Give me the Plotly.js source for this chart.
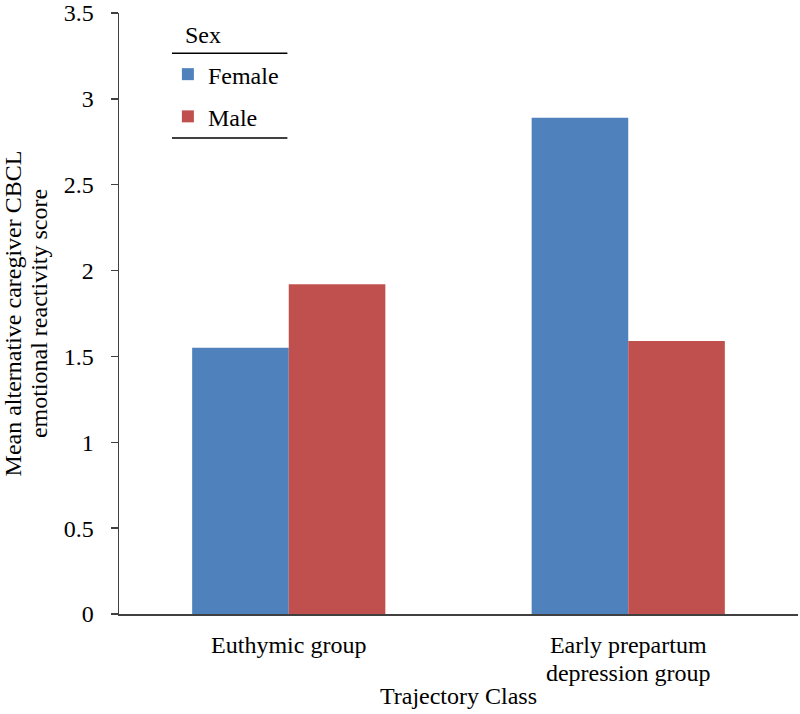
<!DOCTYPE html>
<html>
<head>
<meta charset="utf-8">
<script src="https://cdn.plot.ly/plotly-3.0.1.min.js"></script>
<style>html,body{margin:0;padding:0;background:#fff;}#chart{width:800px;height:714px;}</style>
</head>
<body>
<div id="chart"></div>
<script>
const categories = ["Euthymic group", "Early prepartum depression group"];
const categoryLabels = ["Euthymic group", "Early prepartum<br>depression group"];
const femaleValues = [1.55, 2.89];
const maleValues = [1.92, 1.59];
const seriesNames = ["Female", "Male"];
const legendTitle = "Sex";
const yTitleLines = ["Mean alternative caregiver CBCL", "emotional reactivity score"];
const xTitle = "Trajectory Class";
const yTickValues = [0, 0.5, 1, 1.5, 2, 2.5, 3, 3.5];
const yTickLabels = ["0", "0.5", "1", "1.5", "2", "2.5", "3", "3.5"];

const font = "Liberation Serif";
const fs = 24;
const axisColor = "#404040";
const big = s => "<span style='font-size:" + fs + "px'>" + s + "</span>";

const traces = [
  {type: "bar", x: categories, y: femaleValues, name: seriesNames[0], legendgroup: "f",
   marker: {color: "#4F81BD", line: {width: 0}}},
  {type: "bar", x: categories, y: maleValues, name: seriesNames[1], legendgroup: "m",
   marker: {color: "#C0504D", line: {width: 0}}}
];

const layout = {
  width: 800, height: 714,
  margin: {l: 119, r: 2, t: 13, b: 100},
  paper_bgcolor: "#fff", plot_bgcolor: "#fff",
  font: {family: font, size: fs, color: "#000"},
  barmode: "group", bargap: 0.431, bargroupgap: 0,
  showlegend: true,
  legend: {
    x: 0.072, xanchor: "left", y: 0.935, yanchor: "top",
    font: {family: font, size: fs, color: "#000"},
    traceorder: "grouped", tracegroupgap: 8,
    itemwidth: 30, bgcolor: "rgba(0,0,0,0)"
  },
  xaxis: {
    type: "category", showline: true, linecolor: axisColor, linewidth: 1.5,
    ticks: "", showgrid: false, zeroline: false,
    tickvals: categories, ticktext: categoryLabels.map(s => s.split("<br>").map(big).join("<br>")),
    tickfont: {family: font, size: 21.5, color: "#000"}, ticklabelstandoff: 12,
    title: {text: xTitle, font: {family: font, size: fs, color: "#000"}, standoff: 2},
    automargin: false
  },
  yaxis: {
    range: [0, 3.5], showline: true, linecolor: axisColor, linewidth: 1.5,
    ticks: "outside", ticklen: 7, tickcolor: axisColor, tickwidth: 1.5,
    tickvals: yTickValues, ticktext: yTickLabels,
    showgrid: false, zeroline: false, ticklabeloverflow: "allow",
    tickfont: {family: font, size: fs, color: "#000"}, ticklabelstandoff: 12,
    title: {text: yTitleLines.map(big).join("<br>"), font: {family: font, size: 20, color: "#000"}, standoff: 11},
    automargin: false
  },
  annotations: [
    {xref: "paper", yref: "paper", x: 0.123, y: 0.963, xanchor: "center", yanchor: "middle",
     text: legendTitle, showarrow: false, font: {family: font, size: fs, color: "#000"}}
  ],
  shapes: [
    {type: "line", xref: "paper", yref: "paper", x0: 0.078, x1: 0.248, y0: 0.933, y1: 0.933, line: {color: "#000", width: 1.5}},
    {type: "line", xref: "paper", yref: "paper", x0: 0.078, x1: 0.248, y0: 0.792, y1: 0.792, line: {color: "#000", width: 1.5}}
  ]
};

Plotly.newPlot("chart", traces, layout, {displayModeBar: false, staticPlot: true});
</script>
</body>
</html>
